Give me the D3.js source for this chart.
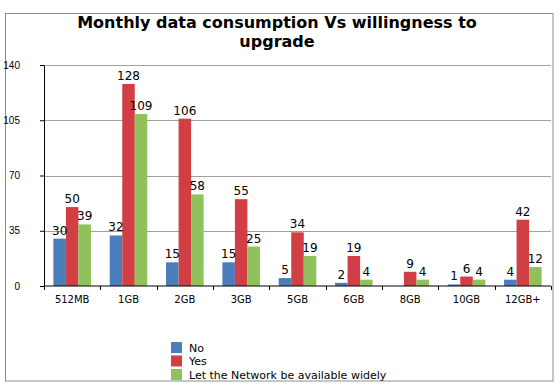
<!DOCTYPE html>
<html>
<head>
<meta charset="utf-8">
<script src="https://cdn.jsdelivr.net/npm/d3@7"></script>
<style>
body { margin: 0; background: #fff; }
svg { display: block; }
</style>
</head>
<body>
<div id="Chart_Part"></div>
<script>
var categories = ["512MB", "1GB", "2GB", "3GB", "5GB", "6GB", "8GB", "10GB", "12GB+"];
var seriesNames = ["No", "Yes", "Let the Network be available widely"];
var noValues = [30, 32, 15, 15, 5, 2, 0, 1, 4];
var yesValues = [50, 128, 106, 55, 34, 19, 9, 6, 42];
var networkValues = [39, 109, 58, 25, 19, 4, 4, 4, 12];
var yTicks = [0, 35, 70, 105, 140];

var seriesColors = ["#4a7ebb", "#d13f45", "#8fc25a"];
var FontFamily = "'DejaVu Sans', Verdana, sans-serif";

var allSeries = [noValues, yesValues, networkValues];

var svg = d3.select("#Chart_Part")
	.append("svg")
	.attr("width", 560)
	.attr("height", 386);

// outer frame
svg.append("rect")
	.attr("x", 5.5)
	.attr("y", 13.5)
	.attr("width", 547.5)
	.attr("height", 367.5)
	.style("fill", "none")
	.style("stroke", "#8c8c8c")
	.style("stroke-width", 1);

// title
var Title = svg.append("text")
	.attr("x", 277)
	.attr("y", 28)
	.attr("text-anchor", "middle")
	.style("font-family", FontFamily)
	.style("font-weight", "bold")
	.style("font-size", "16px")
	.style("fill", "#000");
Title.append("tspan").attr("x", 277).attr("dy", 0).text("Monthly data consumption Vs willingness to");
Title.append("tspan").attr("x", 277).attr("dy", 18.5).text("upgrade");

var plotLeft = 44, plotRight = 551, plotTop = 65, plotBottom = 286;

var x0 = d3.scaleBand()
	.domain(categories)
	.range([plotLeft, plotRight])
	.paddingInner(1 / 3)
	.paddingOuter(1 / 6);

var x1 = d3.scaleBand()
	.domain(d3.range(seriesNames.length))
	.range([0, x0.bandwidth()]);

var y = d3.scaleLinear()
	.domain([0, 140])
	.range([plotBottom, plotTop]);

// gridlines
svg.append("g")
	.selectAll("line")
	.data(yTicks.filter(function(d){ return d > 0; }))
	.enter()
	.append("line")
	.attr("x1", plotLeft)
	.attr("x2", plotRight)
	.attr("y1", function(d){ return Math.round(y(d)) + 0.5; })
	.attr("y2", function(d){ return Math.round(y(d)) + 0.5; })
	.style("stroke", "#a0a0a0")
	.style("stroke-width", 1);

// bars
var groups = svg.append("g")
	.selectAll("g")
	.data(categories)
	.enter()
	.append("g")
	.attr("transform", function(d){ return "translate(" + x0(d) + ",0)"; });

groups.selectAll("rect")
	.data(function(d, i){
		return allSeries.map(function(s, k){ return {k: k, v: s[i]}; });
	})
	.enter()
	.append("rect")
	.attr("x", function(d){ return x1(d.k); })
	.attr("width", x1.bandwidth())
	.attr("y", function(d){ return y(d.v); })
	.attr("height", function(d){ return plotBottom - y(d.v); })
	.style("fill", function(d){ return seriesColors[d.k]; });

groups.selectAll("text")
	.data(function(d, i){
		return allSeries.map(function(s, k){ return {k: k, v: s[i]}; })
			.filter(function(d){ return d.v > 0; });
	})
	.enter()
	.append("text")
	.attr("x", function(d){ return x1(d.k) + x1.bandwidth() / 2; })
	.attr("y", function(d){ return y(d.v) - 4; })
	.attr("text-anchor", "middle")
	.style("font-family", FontFamily)
	.style("font-size", "12px")
	.style("fill", "#000")
	.text(function(d){ return d.v; });

// y axis
var yAxis = svg.append("g")
	.attr("transform", "translate(" + plotLeft + ",0)")
	.call(d3.axisLeft(y).tickValues(yTicks).tickSize(4).tickPadding(20).tickSizeOuter(0));
yAxis.selectAll("text")
	.style("font-family", "'Liberation Sans', Arial, sans-serif")
	.style("font-size", "10px")
	.style("fill", "#000");

// x axis
var xAxis = svg.append("g")
	.attr("transform", "translate(0," + plotBottom + ")")
	.call(d3.axisBottom(x0).tickSize(0).tickPadding(10));
xAxis.select(".domain").remove();
xAxis.append("line")
	.attr("x1", plotLeft)
	.attr("x2", plotRight)
	.style("stroke", "#000");
xAxis.selectAll(".sepTick")
	.data(d3.range(categories.length + 1))
	.enter()
	.append("line")
	.attr("class", "sepTick")
	.attr("x1", function(i){ return Math.round(plotLeft + i * (plotRight - plotLeft) / categories.length) + 0.5; })
	.attr("x2", function(i){ return Math.round(plotLeft + i * (plotRight - plotLeft) / categories.length) + 0.5; })
	.attr("y1", 0)
	.attr("y2", 4)
	.style("stroke", "#000");
xAxis.selectAll("text")
	.style("font-family", FontFamily)
	.style("font-size", "10px")
	.style("fill", "#000");

// legend
var legend = svg.append("g")
	.selectAll("g")
	.data(seriesNames)
	.enter()
	.append("g")
	.attr("transform", function(d, i){ return "translate(171," + (342 + i * 13.5) + ")"; });
legend.append("rect")
	.attr("width", 11)
	.attr("height", 11)
	.style("fill", function(d, i){ return seriesColors[i]; });
legend.append("text")
	.attr("x", 18)
	.attr("y", 9.5)
	.style("font-family", FontFamily)
	.style("font-size", "11px")
	.style("fill", "#000")
	.text(function(d){ return d; });
</script>
</body>
</html>
